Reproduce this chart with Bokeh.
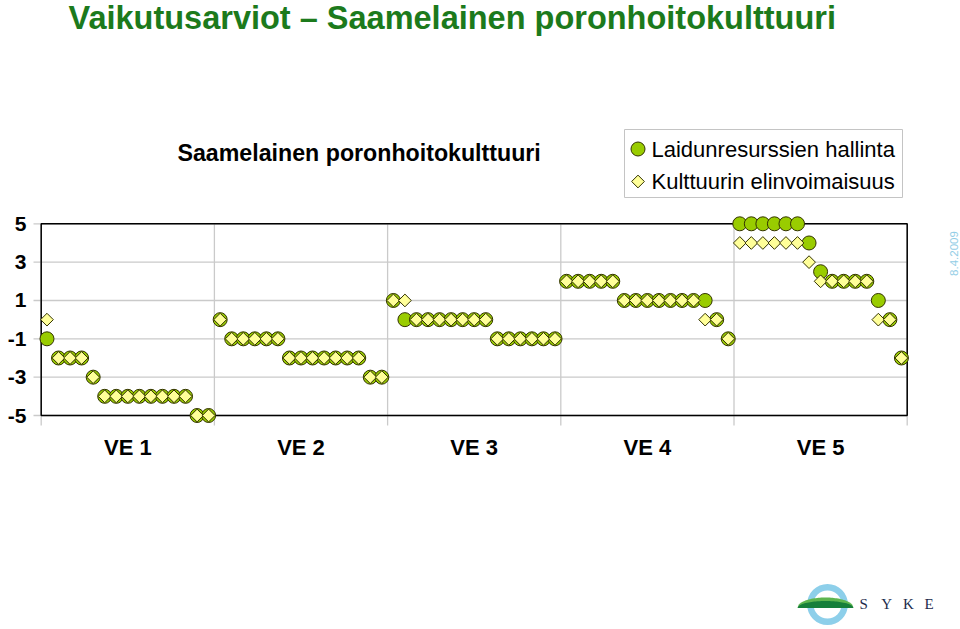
import math
from bokeh.plotting import figure
from bokeh.models import Range1d, FixedTicker
from bokeh.core.properties import value
from bokeh.embed import file_html
from bokeh.resources import INLINE

# ---------------- data ----------------
main_title = "Vaikutusarviot – Saamelainen poronhoitokulttuuri"
chart_title = "Saamelainen poronhoitokulttuuri"
ve_labels = ["VE 1", "VE 2", "VE 3", "VE 4", "VE 5"]
points_per_ve = 15
y_ticks = [5, 3, 1, -1, -3, -5]
y_tick_labels = ["5", "3", "1", "-1", "-3", "-5"]
series_names = ["Laidunresurssien hallinta", "Kulttuurin elinvoimaisuus"]
date_text = "8.4.2009"
logo_letters = ["S", "Y", "K", "E"]

laidun = [
    -1, -2, -2, -2, -3, -4, -4, -4, -4, -4, -4, -4, -4, -5, -5,
    0, -1, -1, -1, -1, -1, -2, -2, -2, -2, -2, -2, -2, -3, -3,
    1, 0, 0, 0, 0, 0, 0, 0, 0, -1, -1, -1, -1, -1, -1,
    2, 2, 2, 2, 2, 1, 1, 1, 1, 1, 1, 1, 1, 0, -1,
    5, 5, 5, 5, 5, 5, 4, 2.5, 2, 2, 2, 2, 1, 0, -2,
]
kulttuuri = [
    0, -2, -2, -2, -3, -4, -4, -4, -4, -4, -4, -4, -4, -5, -5,
    0, -1, -1, -1, -1, -1, -2, -2, -2, -2, -2, -2, -2, -3, -3,
    1, 1, 0, 0, 0, 0, 0, 0, 0, -1, -1, -1, -1, -1, -1,
    2, 2, 2, 2, 2, 1, 1, 1, 1, 1, 1, 1, 0, 0, -1,
    4, 4, 4, 4, 4, 4, 3, 2, 2, 2, 2, 2, 0, 0, -2,
]

# ---------------- layout (pixels) ----------------
W, H = 960, 629
FL = 30                      # frame left edge
PX_L, PX_R = 40.7, 906.7     # plot box left / right
PY_T, PY_B = 223.3, 415.0    # plot box top / bottom
n = len(laidun)
ymax, ymin = max(y_ticks), min(y_ticks)
ux = (PX_R - PX_L) / n
vy = (PY_B - PY_T) / (ymax - ymin)
x0 = -(PX_L - FL) / ux
x1 = x0 + (W - FL) / ux
y1 = ymax + PY_T / vy
y0 = ymax - (H - PY_T) / vy


def X(px):
    return x0 + (px - FL) / ux


def Y(py):
    return ymax - (py - PY_T) / vy


FONT = value("Liberation Sans")
GREEN = "#99CC00"
YELLOW = "#FFFF99"
EDGE = "#333300"

p = figure(width=W, height=H, x_range=Range1d(x0, x1), y_range=Range1d(y0, y1),
           output_backend="svg", toolbar_location=None, title=None,
           x_axis_location=None, y_axis_location="left",
           min_border_left=FL, min_border_right=0, min_border_top=0, min_border_bottom=0)
p.outline_line_color = None
p.background_fill_color = "white"
p.border_fill_color = "white"
p.xgrid.visible = False
p.ygrid.visible = False

ax = p.yaxis[0]
ax.ticker = FixedTicker(ticks=y_ticks)
ax.major_label_overrides = {t: lab for t, lab in zip(y_ticks, y_tick_labels)}
ax.major_label_text_font = "Liberation Sans"
ax.major_label_text_font_size = "21px"
ax.major_label_text_font_style = "bold"
ax.major_label_text_color = "black"
ax.axis_line_color = None
ax.major_tick_line_color = None
ax.minor_tick_line_color = None
ax.major_tick_out = 0
ax.major_tick_in = 0
ax.major_label_standoff = 4

# grid lines (gray) incl. short tick extensions
bounds = [k * points_per_ve for k in range(len(ve_labels) + 1)]
p.segment(x0=[X(33)] * len(y_ticks), x1=[n] * len(y_ticks), y0=y_ticks, y1=y_ticks,
          line_color="#CACACA", line_width=1.3)
p.segment(x0=bounds, x1=bounds, y0=[Y(425)] * len(bounds), y1=[ymax] * len(bounds),
          line_color="#CACACA", line_width=1.3)
# plot box
p.quad(left=[0], right=[n], bottom=[ymin], top=[ymax], fill_color=None,
       line_color="black", line_width=1.5)

# data markers
xs = [i + 0.5 for i in range(n)]
p.scatter(xs, laidun, marker="circle", size=14, fill_color=GREEN, line_color=EDGE, line_width=1)
p.scatter(xs, kulttuuri, marker="square", angle=math.pi / 4, size=9,
          fill_color=YELLOW, line_color=EDGE, line_width=1)

# category labels
centers = [points_per_ve * (k + 0.5) for k in range(len(ve_labels))]
p.text(x=centers, y=[Y(446.5)] * len(centers), text=ve_labels, text_font=FONT,
       text_font_style="bold", text_font_size="22px", text_color="black",
       text_align="center", text_baseline="middle")

# titles
p.text(x=[X(68)], y=[Y(17.5)], text=[main_title], text_font=FONT, text_font_style="bold",
       text_font_size="32.5px", text_color="#1C7A1C", text_align="left", text_baseline="middle")
p.text(x=[X(177)], y=[Y(152.5)], text=[chart_title], text_font=FONT, text_font_style="bold",
       text_font_size="23.2px", text_color="black", text_align="left", text_baseline="middle")

# legend
p.quad(left=[X(624)], right=[X(902)], top=[Y(129)], bottom=[Y(197)], fill_color="white",
       line_color="#C4C4C4", line_width=1)
p.scatter([X(637.5)], [Y(148.5)], marker="circle", size=14, fill_color=GREEN, line_color=EDGE)
p.scatter([X(637.5)], [Y(181)], marker="square", angle=math.pi / 4, size=9,
          fill_color=YELLOW, line_color=EDGE)
p.text(x=[X(651), X(651)], y=[Y(148.5), Y(181)], text=series_names, text_font=FONT,
       text_font_size="22px", text_color="black", text_align="left", text_baseline="middle")

# date
p.text(x=[X(953)], y=[Y(253)], text=[date_text], angle=math.pi / 2, text_font=FONT,
       text_font_size="11.5px", text_color="#92CDE6", text_align="center", text_baseline="middle")

# SYKE logo
p.annulus(x=[X(827)], y=[Y(604)], inner_radius=14, outer_radius=20.5,
          inner_radius_units="screen", outer_radius_units="screen",
          fill_color="#8DCFEA", line_color=None)
ts = [k / 40 for k in range(41)]
dome_x = [X(797 + 56 * t) for t in ts]
dome_y = [Y(607 - 10 * math.sqrt(max(0.0, 1 - (2 * t - 1) ** 2))) for t in ts]
p.patch(dome_x, dome_y, fill_color="#5DB54F", line_color=None)
dome_y2 = [Y(607.5 - 7 * math.sqrt(max(0.0, 1 - (2 * t - 1) ** 2))) for t in ts]
p.patch(dome_x, dome_y2, fill_color="#167F3A", line_color=None)
p.text(x=[X(859 + 21.7 * k) for k in range(len(logo_letters))], y=[Y(603.5)] * len(logo_letters),
       text=logo_letters, text_font=value("Liberation Serif"),
       text_font_size="15px", text_color="#1C2B4C", text_align="left", text_baseline="middle")

open("out.html", "w").write(file_html(p, INLINE))
